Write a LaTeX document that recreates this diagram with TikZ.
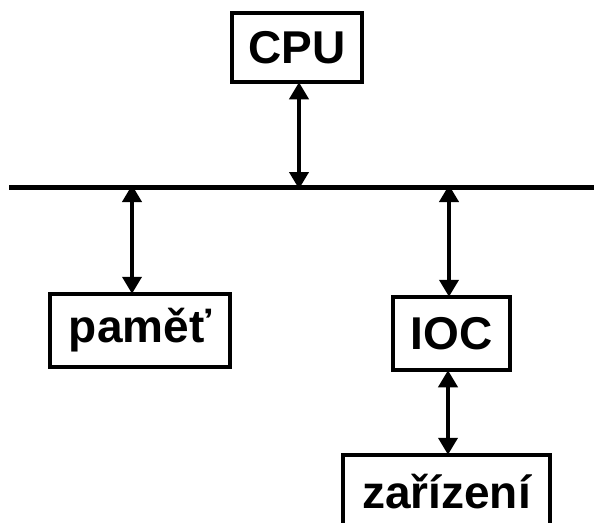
\documentclass[tikz,border=0pt]{standalone}
\usepackage{fontspec}
\setmainfont{Liberation Sans}
\usetikzlibrary{arrows.meta}
\begin{document}
\begin{tikzpicture}[x=1pt,y=-1pt,
  unit/.style={draw=black,line width=4.5pt,inner sep=0pt,font=\fontsize{46}{50}\selectfont\bfseries,text=black},
  link/.style={line width=4pt,{Triangle[length=17pt,width=19pt]}-{Triangle[length=17pt,width=19pt]},shorten <=-2pt,shorten >=-2pt}]
\useasboundingbox (0,0) rectangle (594,522);
\clip (0,0) rectangle (594,522);
\node[unit,minimum width=130pt,minimum height=69pt] (cpu) at (297,47.5) {CPU};
\node[unit,minimum width=180pt,minimum height=73pt] (mem) at (140,330.5) {paměť};
\node[unit,minimum width=117pt,minimum height=73pt] (ioc) at (451.5,333.5) {IOC};
\node[unit,minimum width=207pt,minimum height=73pt] (dev) at (446.5,491.5) {zařízení};
\coordinate (busL) at (9,187);
\coordinate (busR) at (600,187);
\draw[line width=5pt] (busL) -- (busR);
\draw[link] ([xshift=2pt]cpu.south) -- ([xshift=2pt]cpu.south |- busL);
\draw[link] ([xshift=-8pt]mem.north |- busL) -- ([xshift=-8pt]mem.north);
\draw[link] ([xshift=-2.5pt]ioc.north |- busL) -- ([xshift=-2.5pt]ioc.north);
\draw[link] ([xshift=-3.5pt]ioc.south) -- ([xshift=-3.5pt]ioc.south |- dev.north);
\end{tikzpicture}
\end{document}
